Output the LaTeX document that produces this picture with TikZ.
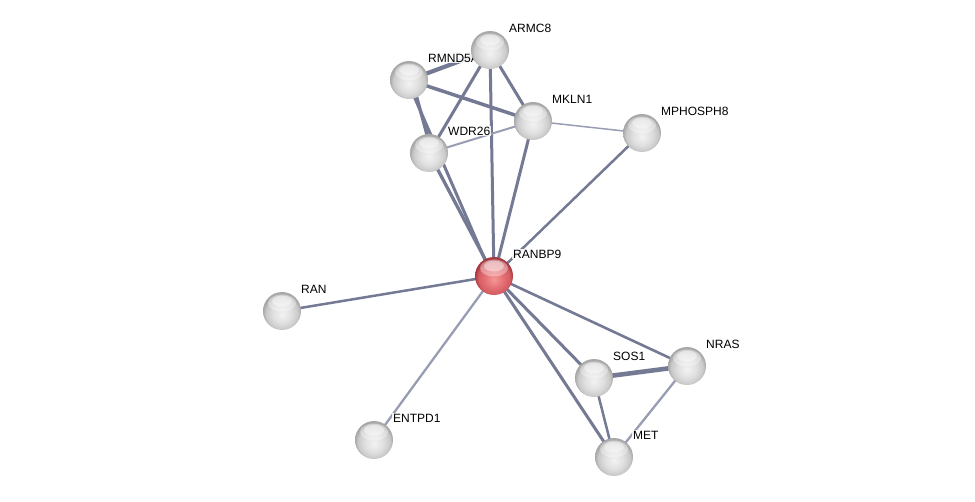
\documentclass[tikz,border=0pt]{standalone}
\usepackage{fontspec}
\setmainfont{Liberation Sans}
\usetikzlibrary{positioning}
\definecolor{edgecol}{RGB}{116, 121, 148}
\definecolor{edgelight}{RGB}{152, 157, 180}
\pgfdeclareradialshading{greysphere}{\pgfpoint{0bp}{-5bp}}{%
  color(0bp)=(white!95!black); color(12bp)=(white!88!black); color(21bp)=(white!79!black);
  color(25bp)=(white!66!black); color(50bp)=(white!66!black)}
\pgfdeclareradialshading{redsphere}{\pgfpoint{0bp}{-5bp}}{%
  color(0bp)=(rgb,255:red,244;green,150;blue,150); color(12bp)=(rgb,255:red,228;green,112;blue,116);
  color(21bp)=(rgb,255:red,212;green,92;blue,98); color(25bp)=(rgb,255:red,165;green,58;blue,66);
  color(50bp)=(rgb,255:red,165;green,58;blue,66)}
\pgfdeclarelayer{edgelayer}
\pgfdeclarelayer{labellayer}
\pgfsetlayers{edgelayer,labellayer,main}

\begin{document}
\begin{tikzpicture}[
          x=1pt, y=-1pt,
          prot/.style={circle, minimum size=38pt, inner sep=0pt, shading=greysphere,
                       path picture={
                         \fill[white, opacity=0.35] ([yshift=8pt]path picture bounding box.center) ellipse (14pt and 8.5pt);
                         \fill[white, opacity=0.4] ([yshift=10pt]path picture bounding box.center) ellipse (10pt and 5.5pt);}},
          hub/.style={prot, shading=redsphere},
          lbl/.style={anchor=west, inner sep=1pt, fill=white, fill opacity=0.85, text opacity=1,
                      font=\fontsize{12}{14}\selectfont},
          lnk/.style={color=edgecol, line width=3pt},
          strong/.style={color=edgecol, line width=4.2pt},
          weak/.style={color=edgelight, line width=2pt},
        ]
        \useasboundingbox (0,0) rectangle (975,502);
        % proteins
        \node[prot] (armc8) at (490,50) {};
        \node[prot] (rmnd5a) at (409,80) {};
        \node[prot] (mkln1) at (533,121) {};
        \node[prot] (wdr26) at (429,153) {};
        \node[prot] (mphosph8) at (642,133) {};
        \node[hub] (ranbp9) at (494,276) {};
        \node[prot] (ran) at (282,311) {};
        \node[prot] (entpd1) at (374,440) {};
        \node[prot] (sos1) at (594,378) {};
        \node[prot] (nras) at (687,366) {};
        \node[prot] (met) at (614,457) {};
        % labels
        \begin{pgfonlayer}{labellayer}
        \node[lbl] (l-armc8) at ([xshift=18pt,yshift=22pt]armc8.center) {ARMC8};
        \node[lbl] (l-rmnd5a) at ([xshift=18pt,yshift=22pt]rmnd5a.center) {RMND5A};
        \node[lbl] (l-mkln1) at ([xshift=18pt,yshift=22pt]mkln1.center) {MKLN1};
        \node[lbl] (l-wdr26) at ([xshift=18pt,yshift=22pt]wdr26.center) {WDR26};
        \node[lbl] (l-mphosph8) at ([xshift=18pt,yshift=22pt]mphosph8.center) {MPHOSPH8};
        \node[lbl] (l-ranbp9) at ([xshift=18pt,yshift=22pt]ranbp9.center) {RANBP9};
        \node[lbl] (l-ran) at ([xshift=18pt,yshift=22pt]ran.center) {RAN};
        \node[lbl] (l-entpd1) at ([xshift=18pt,yshift=22pt]entpd1.center) {ENTPD1};
        \node[lbl] (l-sos1) at ([xshift=18pt,yshift=22pt]sos1.center) {SOS1};
        \node[lbl] (l-nras) at ([xshift=18pt,yshift=22pt]nras.center) {NRAS};
        \node[lbl] (l-met) at ([xshift=18pt,yshift=22pt]met.center) {MET};
        \end{pgfonlayer}
        % edges
        \begin{pgfonlayer}{edgelayer}
        \draw[strong] (rmnd5a.center) -- (armc8.center);
        \draw[lnk, line width=3.5pt] (rmnd5a.center) -- (mkln1.center);
        \draw[lnk, line width=3.3pt] ([xshift=3pt]rmnd5a.center) -- ([xshift=3pt]wdr26.center);
        \draw[lnk] ([xshift=-2pt]rmnd5a.center) -- ([xshift=-2pt]ranbp9.center);
        \draw[lnk, line width=3.3pt] (wdr26.center) -- (ranbp9.center);
        \draw[lnk] (armc8.center) -- (wdr26.center);
        \draw[lnk] (armc8.center) -- (mkln1.center);
        \draw[lnk] (armc8.center) -- (ranbp9.center);
        \draw[weak] (mkln1.center) -- (wdr26.center);
        \draw[weak, line width=1.5pt] (mkln1.center) -- (mphosph8.center);
        \draw[lnk] (mkln1.center) -- (ranbp9.center);
        \draw[lnk, line width=2.5pt] (mphosph8.center) -- (ranbp9.center);
        \draw[lnk, line width=2.5pt] (ranbp9.center) -- (ran.center);
        \draw[weak, line width=2.3pt] (ranbp9.center) -- (entpd1.center);
        \draw[lnk] (ranbp9.center) -- (sos1.center);
        \draw[lnk, line width=2.6pt] (ranbp9.center) -- (nras.center);
        \draw[lnk] (ranbp9.center) -- (met.center);
        \draw[strong, line width=4.6pt] (sos1.center) -- (nras.center);
        \draw[lnk, line width=2.5pt] (sos1.center) -- (met.center);
        \draw[weak, line width=2.3pt] (nras.center) -- (met.center);
        \end{pgfonlayer}
      \end{tikzpicture}
\end{document}
